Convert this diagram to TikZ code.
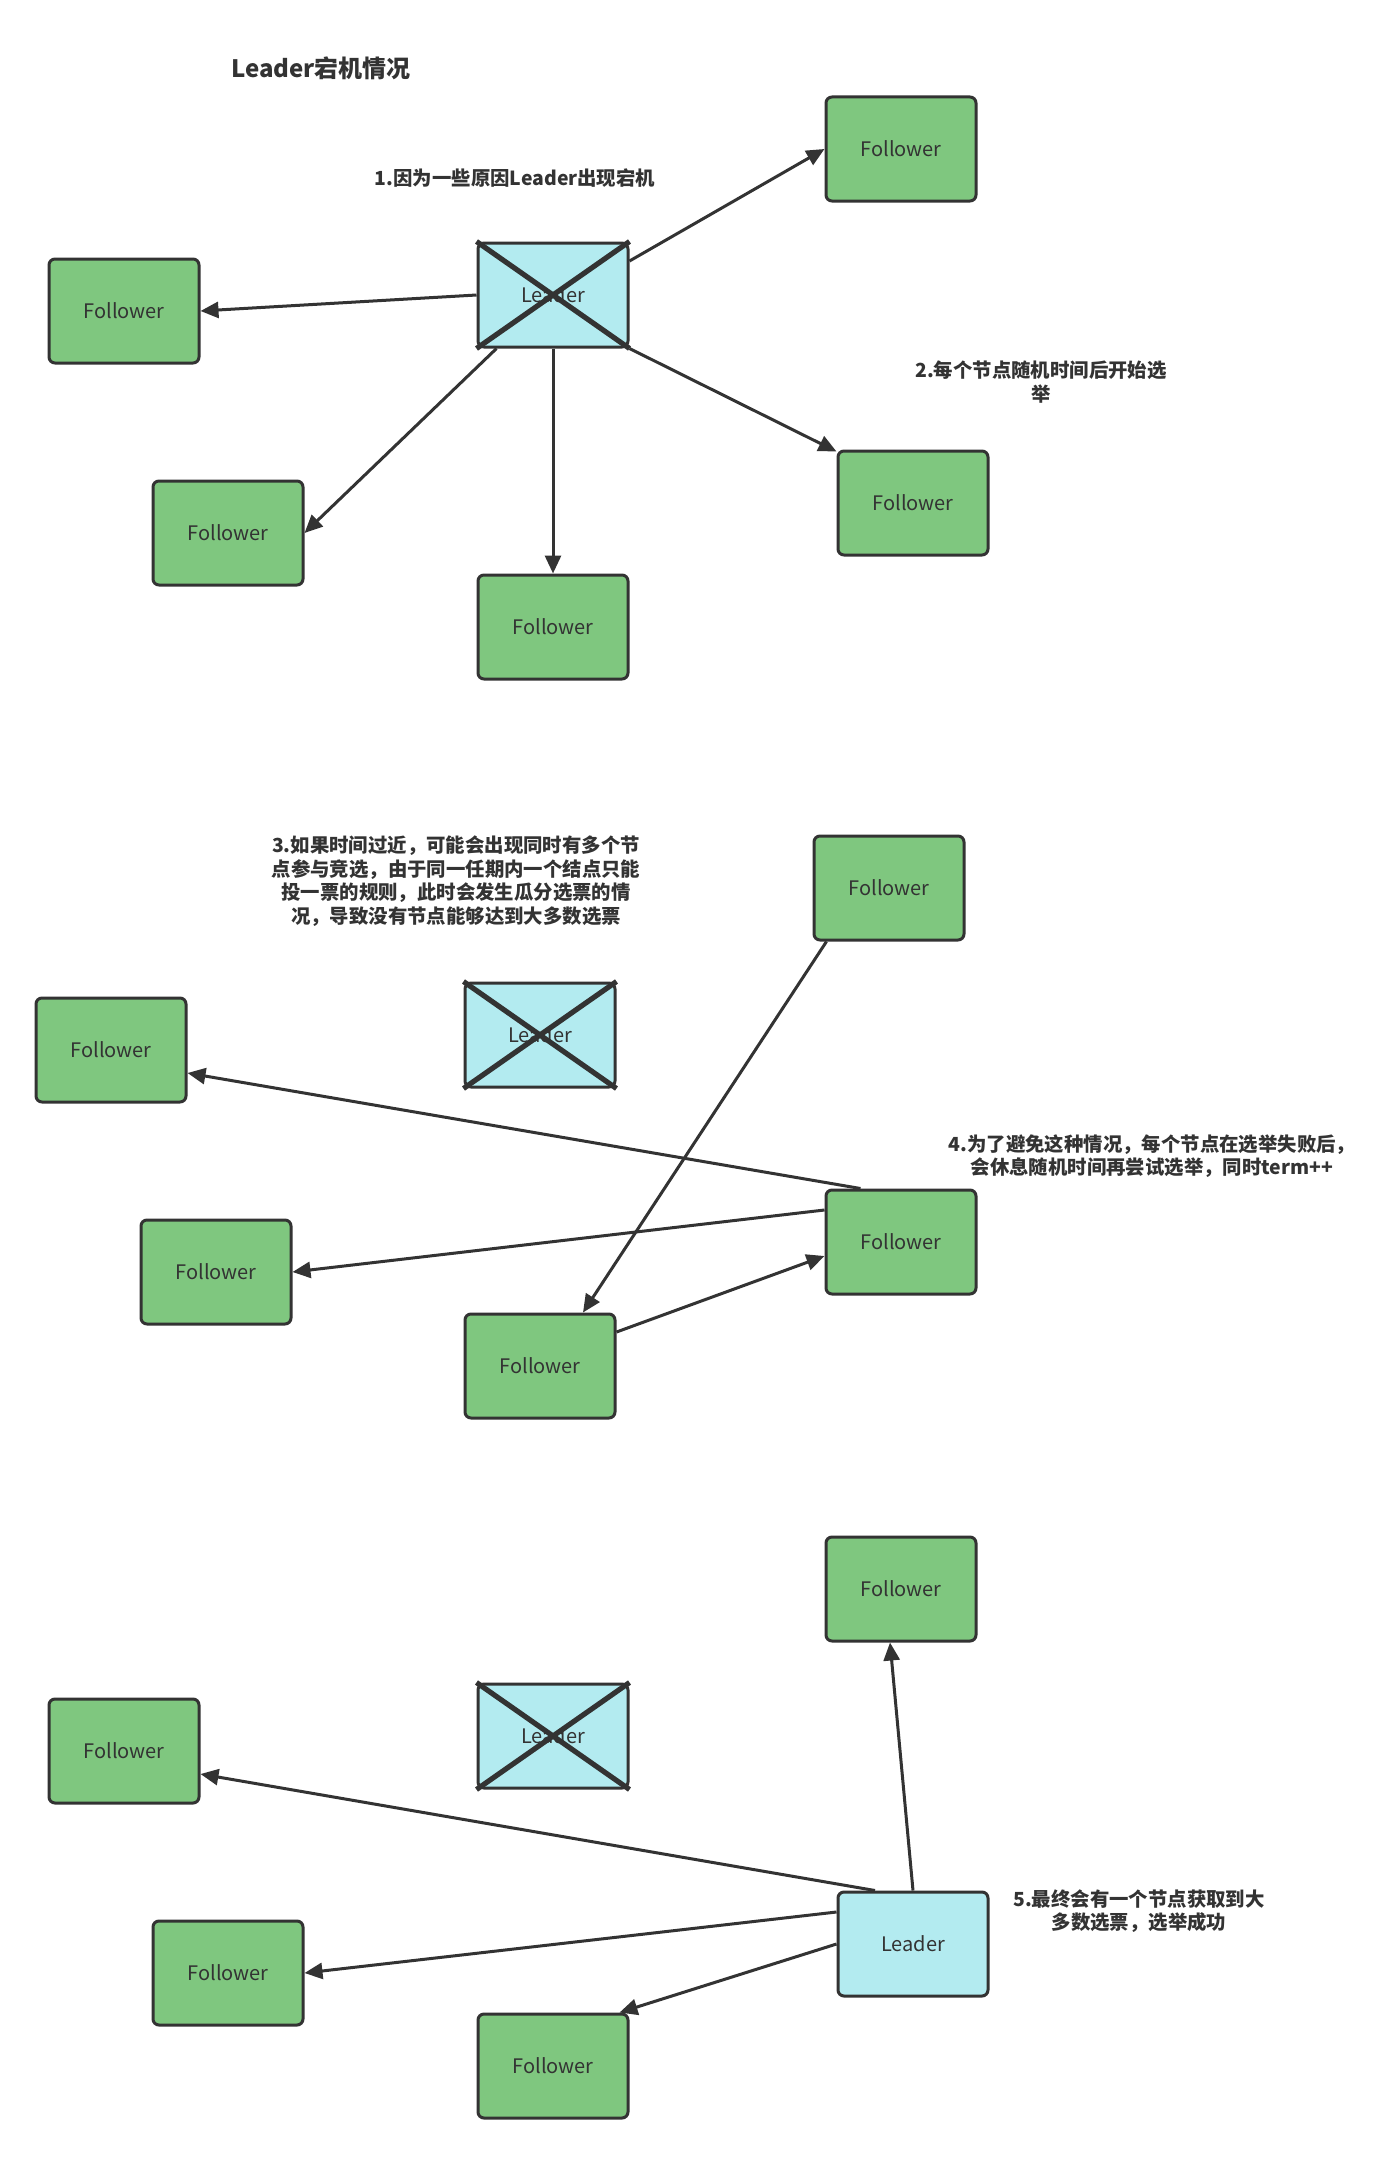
\documentclass[tikz,border=0pt]{standalone}
\usepackage{fontspec}
\setmainfont{Noto Sans CJK SC}
\usepackage{tikz}
\usetikzlibrary{arrows.meta, positioning, calc}
\usepackage{xcolor}
\definecolor{ink}{HTML}{333333}
\definecolor{followergreen}{HTML}{7FC77F}
\definecolor{leadercyan}{HTML}{B3EBF0}
\tikzstyle{follower} = [rectangle, rounded corners=3pt, minimum width=75pt, minimum height=52pt, text centered, draw=ink, line width=1.5pt, fill=followergreen, text=ink, font=\fontsize{10}{12}\selectfont]
\tikzstyle{leader} = [follower, fill=leadercyan]
\tikzstyle{cross} = [draw=ink, line width=2.6pt]
\tikzstyle{note} = [align=center, text=ink, font=\fontsize{9.7}{11.8}\selectfont\bfseries]
\tikzstyle{arrow} = [ink, line width=1.5pt, -{Triangle[length=9pt, width=8pt]}]

\begin{document}
\begin{tikzpicture}[x=0.5pt, y=-0.5pt]
    \useasboundingbox (0,0) rectangle (1400,2157);

    % part 1: leader goes down
    \node (title) [note, font=\fontsize{12}{14}\selectfont\bfseries] at (321,68) {Leader宕机情况};
    \node (n1) [note] at (515,178) {1.因为一些原因Leader出现宕机};
    \node (n2) [note] at (1041,382) {2.每个节点随机时间后开始选\\举};
    \node (l1) [leader] at (553,295) {Leader};
    \draw [cross] (l1.north west) -- (l1.south east);
    \draw [cross] (l1.north east) -- (l1.south west);
    \node (fa) [follower] at (901,149) {Follower};
    \node (fb) [follower] at (124,311) {Follower};
    \node (fc) [follower] at (228,533) {Follower};
    \node (fd) [follower] at (553,627) {Follower};
    \node (fe) [follower] at (913,503) {Follower};

    \draw [arrow] ([yshift=17pt]l1.east) -- (fa.west);
    \draw [arrow] (l1.west) -- (fb.east);
    \draw [arrow] ([xshift=10pt]l1.south west) -- (fc.east);
    \draw [arrow] (l1.south) -- (fd.north);
    \draw [arrow] (l1.south east) -- ([yshift=-1pt]fe.north west);

    % part 2: split vote
    \node (n3) [note] at (456,881) {3.如果时间过近，可能会出现同时有多个节\\点参与竞选，由于同一任期内一个结点只能\\投一票的规则，此时会发生瓜分选票的情\\况，导致没有节点能够达到大多数选票};
    \node (n4) [note] at (1152,1156) {4.为了避免这种情况，每个节点在选举失败后，\\会休息随机时间再尝试选举，同时term++};
    \node (l2) [leader] at (540,1035) {Leader};
    \draw [cross] (l2.north west) -- (l2.south east);
    \draw [cross] (l2.north east) -- (l2.south west);
    \node (gt) [follower] at (889,888) {Follower};
    \node (ga) [follower] at (111,1050) {Follower};
    \node (gb) [follower] at (216,1272) {Follower};
    \node (gd) [follower] at (540,1366) {Follower};
    \node (gr) [follower] at (901,1242) {Follower};

    \draw [arrow] ([xshift=18pt]gr.north west) -- ([yshift=-11.5pt]ga.east);
    \draw [arrow] ([yshift=16pt]gr.west) -- (gb.east);
    \draw [arrow] ([yshift=17pt]gd.east) -- ([yshift=-7pt]gr.west);
    \draw [arrow] ([xshift=7pt]gt.south west) -- ([xshift=21.5pt]gd.north);

    % part 3: new leader
    \node (n5) [note] at (1139,1911) {5.最终会有一个节点获取到大\\多数选票，选举成功};
    \node (l3) [leader] at (553,1736) {Leader};
    \draw [cross] (l3.north west) -- (l3.south east);
    \draw [cross] (l3.north east) -- (l3.south west);
    \node (ht) [follower] at (901,1589) {Follower};
    \node (ha) [follower] at (124,1751) {Follower};
    \node (hb) [follower] at (228,1973) {Follower};
    \node (hd) [follower] at (553,2066) {Follower};
    \node (h0) [leader] at (913,1944) {Leader};

    \draw [arrow] (h0.north) -- ([xshift=-5.5pt]ht.south);
    \draw [arrow] ([xshift=-19pt]h0.north) -- ([yshift=-11.5pt]ha.east);
    \draw [arrow] ([yshift=16pt]h0.west) -- (hb.east);
    \draw [arrow] (h0.west) -- ([xshift=-5pt]hd.north east);
\end{tikzpicture}
\end{document}
